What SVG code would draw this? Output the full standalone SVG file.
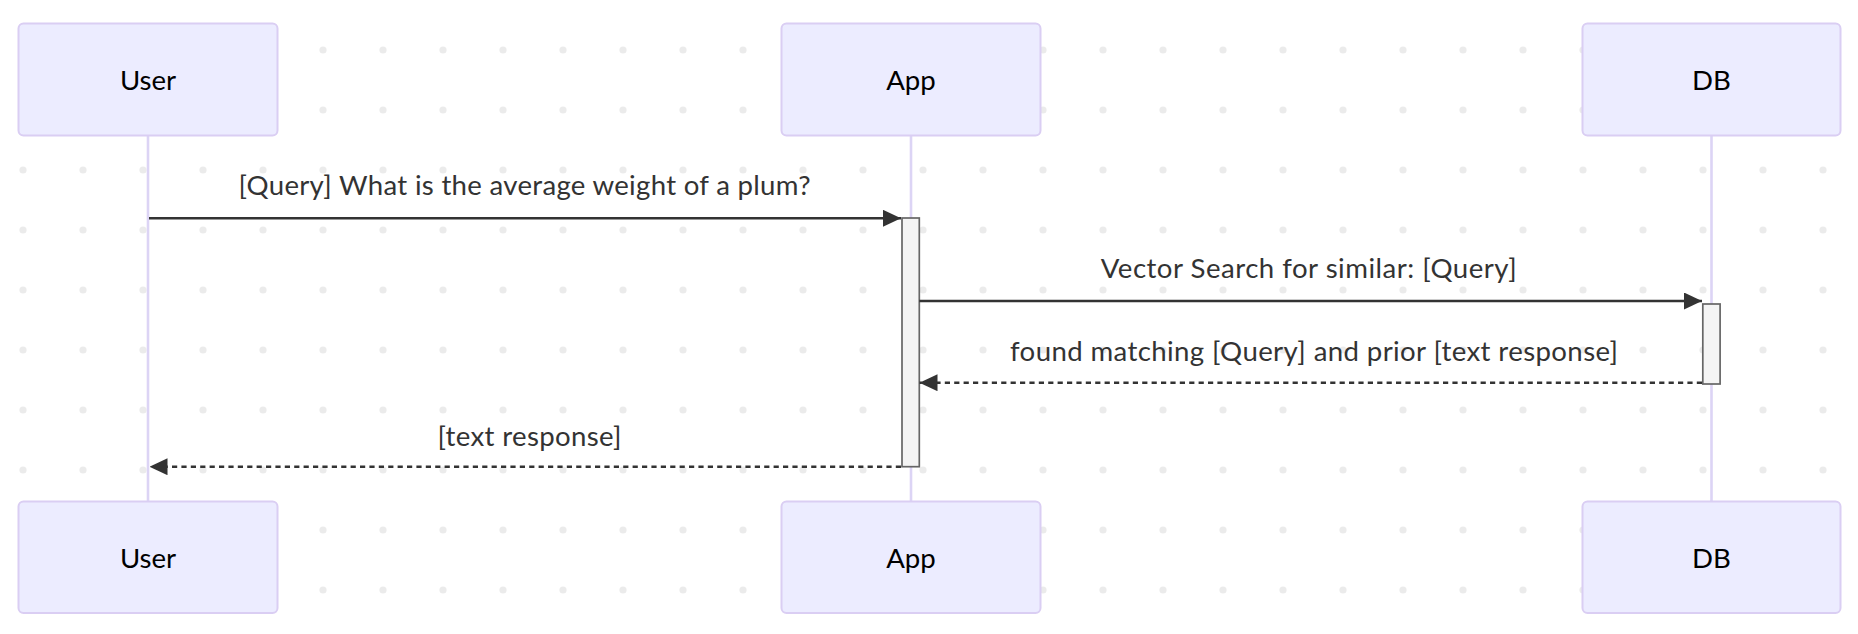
<svg xmlns="http://www.w3.org/2000/svg" width="1858" height="634" viewBox="0 0 1858 634">
  <defs>
    <pattern id="dots" x="0" y="0" width="60" height="60" patternUnits="userSpaceOnUse">
      <circle cx="23" cy="50" r="3.6" fill="#ebebeb"/>
    </pattern>
    <marker id="arrow" viewBox="0 0 18 17" refX="18" refY="8.5" markerWidth="18" markerHeight="17" markerUnits="userSpaceOnUse" orient="auto">
      <path d="M0,0 L18,8.5 L0,17 Z" fill="#333333"/>
    </marker>
    <style>
      .actor { fill: #ECECFF; stroke: #dacef3; stroke-width: 2; }
      .actor-text { font-family: Lato, "Open Sans", "Liberation Sans", sans-serif; font-size: 27.6px; fill: #000000; text-anchor: middle; }
      .lifeline { stroke: #dcd4f5; stroke-width: 2.6; }
      .activation { fill: #f4f4f4; stroke: #666666; stroke-width: 1.7; }
      .msg { stroke: #333333; stroke-width: 2.6; fill: none; }
      .dashed { stroke-dasharray: 5.2 4.2; }
      .msg-text { font-family: Lato, "Open Sans", "Liberation Sans", sans-serif; font-size: 27.6px; fill: #333333; text-anchor: middle; }
    </style>
  </defs>
  <rect x="0" y="0" width="1858" height="634" fill="#ffffff"/>
  <rect x="0" y="0" width="1858" height="634" fill="url(#dots)"/>

  <g id="lifelines">
    <line class="lifeline" x1="148" y1="135.5" x2="148" y2="501.5"/>
    <line class="lifeline" x1="911" y1="135.5" x2="911" y2="501.5"/>
    <line class="lifeline" x1="1711.5" y1="135.5" x2="1711.5" y2="501.5"/>
  </g>

  <g id="actor-user-top">
    <rect class="actor" x="18.5" y="23.5" width="259" height="112" rx="5"/>
    <text class="actor-text" x="148" y="89.5">User</text>
  </g>
  <g id="actor-app-top">
    <rect class="actor" x="781.5" y="23.5" width="259" height="112" rx="5"/>
    <text class="actor-text" x="911" y="89.5">App</text>
  </g>
  <g id="actor-db-top">
    <rect class="actor" x="1582.5" y="23.5" width="258" height="112" rx="5"/>
    <text class="actor-text" x="1711.5" y="89.5">DB</text>
  </g>

  <g id="actor-user-bottom">
    <rect class="actor" x="18.5" y="501.5" width="259" height="111.5" rx="5"/>
    <text class="actor-text" x="148" y="567.5">User</text>
  </g>
  <g id="actor-app-bottom">
    <rect class="actor" x="781.5" y="501.5" width="259" height="111.5" rx="5"/>
    <text class="actor-text" x="911" y="567.5">App</text>
  </g>
  <g id="actor-db-bottom">
    <rect class="actor" x="1582.5" y="501.5" width="258" height="111.5" rx="5"/>
    <text class="actor-text" x="1711.5" y="567.5">DB</text>
  </g>

  <g id="activation-app">
    <rect class="activation" x="902" y="218" width="17.3" height="248.7"/>
  </g>
  <g id="activation-db">
    <rect class="activation" x="1702.8" y="304" width="17.3" height="80"/>
  </g>

  <g id="connectors">
    <line class="msg" x1="149" y1="218.3" x2="901" y2="218.3" marker-end="url(#arrow)"/>
    <text class="msg-text" x="524.5" y="195" textLength="572" lengthAdjust="spacing">[Query] What is the average weight of a plum?</text>

    <line class="msg" x1="919.3" y1="301" x2="1702" y2="301" marker-end="url(#arrow)"/>
    <text class="msg-text" x="1308.7" y="278.3" textLength="416" lengthAdjust="spacing">Vector Search for similar: [Query]</text>

    <line class="msg dashed" x1="1702" y1="382.7" x2="919.5" y2="382.7" marker-end="url(#arrow)"/>
    <text class="msg-text" x="1314" y="361" textLength="608" lengthAdjust="spacing">found matching [Query] and prior [text response]</text>

    <line class="msg dashed" x1="901" y1="466.7" x2="149.5" y2="466.7" marker-end="url(#arrow)"/>
    <text class="msg-text" x="529.5" y="445.5" textLength="184" lengthAdjust="spacing">[text response]</text>
  </g>
</svg>
